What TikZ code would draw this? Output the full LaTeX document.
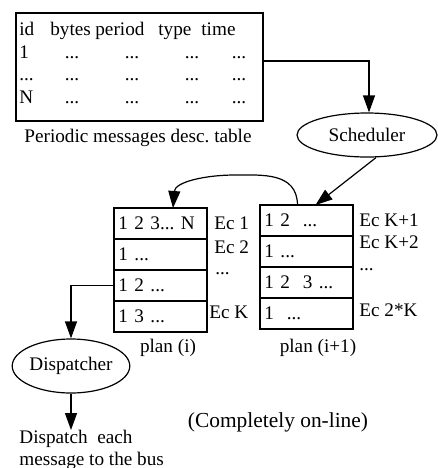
\documentclass[tikz,border=0pt]{standalone}
\usepackage{fontspec}
\setmainfont{Liberation Serif}
\usetikzlibrary{positioning}
\usetikzlibrary{shapes.geometric}
\usetikzlibrary{arrows.meta}

\tikzset{
  cell/.style={draw, line width=0.75pt, minimum width=46.5pt, minimum height=15.5pt,
    inner xsep=2pt, inner ysep=0pt, outer sep=0pt, text width=42pt, align=left},
  proc/.style={draw, ellipse, line width=0.6pt, inner sep=0pt},
  lbl/.style={anchor=base west, inner sep=0pt},
  conn/.style={-{Triangle[length=8.5pt,width=6pt]}, line width=0.6pt},
}

\begin{document}
\begin{tikzpicture}[x=0.5pt, y=-0.5pt, font=\fontsize{9.6}{11}\selectfont\frenchspacing]
  \useasboundingbox (0,0) rectangle (438,468);

  % Table
  \draw[line width=0.75pt] (16,13) rectangle (263,121);
  \coordinate (tabout) at (263,61);
  \node[lbl] (hid) at (19,35) {id};
  \node[lbl] (hbytes) at (50,35) {bytes};
  \node[lbl] (hperiod) at (95,35) {period};
  \node[lbl] (htype) at (158,35) {type};
  \node[lbl] (htime) at (201,35) {time};
  \foreach \y/\r [count=\i] in {58/1, 80/{...}, 103/N} {
    \node[lbl] (row\i) at (19,\y) {\r};
    \foreach \x [count=\j] in {72,132,192,239}
      \node[anchor=base, inner sep=0pt] (c\i\j) at (\x,\y) {...};
  }
  \node[anchor=base, inner sep=0pt] (tabcap) at (138,142) {Periodic messages desc. table};

  \node[proc, minimum width=70pt, minimum height=22pt] (sched) at (367,135) {Scheduler};

  % Plans
  \node[cell, anchor=north west] (p1) at (114,208) {1 2 3... N};
  \node[cell, below=0pt of p1] (p2) {1 ...};
  \node[cell, below=0pt of p2] (p3) {1 2 ...};
  \node[cell, below=0pt of p3] (p4) {1 3 ...};
  \node[cell, anchor=north west] (q1) at (260,205) {1 2\ \ ...};
  \node[cell, below=0pt of q1] (q2) {1 ...};
  \node[cell, below=0pt of q2] (q3) {1 2\ \ 3 ...};
  \node[cell, below=0pt of q3] (q4) {1\ \ ...};

  \node[lbl] (ec1) at (214,229) {Ec 1};
  \node[lbl] (ec2) at (214,253) {Ec 2};
  \node[lbl] (ecd) at (215,274) {...};
  \node[lbl] (eck) at (209,318) {Ec K};
  \node[lbl] (eck1) at (359,226) {Ec K+1};
  \node[lbl] (eck2) at (359,248) {Ec K+2};
  \node[lbl] (eckd) at (359,270) {...};
  \node[lbl] (ec2k) at (359,316) {Ec 2*K};
  \node[anchor=base, inner sep=0pt] (plani) at (168,352) {plan (i)};
  \node[anchor=base, inner sep=0pt] (planj) at (318,352) {plan (i+1)};

  \node[proc, minimum width=55.5pt, minimum height=27pt] (disp) at (71,366) {Dispatcher};
  \node[anchor=north west, inner sep=0pt, align=left] (bus) at (19,430)
    {Dispatch\ \ each\\message to the bus};
  \node[font=\fontsize{10.7}{12}\selectfont] (online) at (278,422) {(Completely on-line)};

  % Edges
  \draw[conn] (tabout) -| ([xshift=1pt]sched.north);
  \draw[conn] ([xshift=4.5pt]sched.south) -- ([xshift=4.5pt]q1.north);
  \draw[conn] ([xshift=-4.5pt]q1.north) .. controls (297,172) and (262,175) .. (235,175)
    .. controls (205,175) and (175,182) .. ([xshift=6.25pt]p1.north);
  \draw[conn] (p3.west) -| (disp.north);
  \draw[conn] (disp.south) -- (disp.south |- bus.north);
\end{tikzpicture}
\end{document}
